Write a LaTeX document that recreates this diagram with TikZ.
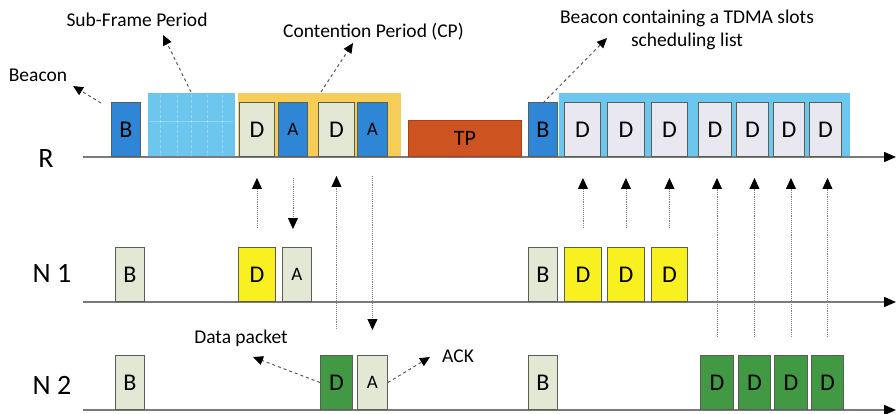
\documentclass[tikz,border=0pt]{standalone}
\usepackage{fontspec}
\setmainfont{Carlito}
\usetikzlibrary{arrows.meta}
\definecolor{bblue}{HTML}{2F86D6}
\definecolor{lblue}{HTML}{6CC6EE}
\definecolor{cpyel}{HTML}{F6CD58}
\definecolor{lgreen}{HTML}{E3E8D4}
\definecolor{lav}{HTML}{E9E7F0}
\definecolor{tpred}{HTML}{CD5420}
\definecolor{yel}{HTML}{F8F020}
\definecolor{dgreen}{HTML}{419A43}
\definecolor{axisgray}{HTML}{7A7A7A}
\definecolor{bordergray}{HTML}{5A5F55}
\tikzset{
  box/.style={draw=bordergray, line width=0.9pt, inner sep=0pt, anchor=south west, font=\fontsize{24}{24}\selectfont},
  abox/.style={box, font=\fontsize{19}{19}\selectfont},
  axisline/.style={draw=axisgray, line width=1.4pt, arrows={-{Triangle[width=10pt,length=12pt,color=black]}}},
  varrow/.style={draw=gray, line width=0.9pt, densely dotted, arrows={-{Triangle[width=10pt,length=11pt,color=black]}}},
  darrow/.style={draw=gray!70!black, line width=1pt, dashed, arrows={-{Triangle[width=9pt,length=10pt,color=black]}}},
  lbl/.style={font=\fontsize{19.5}{23}\selectfont, inner sep=0pt, align=center},
  axlbl/.style={font=\fontsize{28}{28}\selectfont, inner sep=0pt}
}
\begin{document}
\begin{tikzpicture}[x=1pt,y=-1pt]
\useasboundingbox (0,0) rectangle (896,414);
% background regions
\fill[lblue] (148,93) rectangle (235,157);
\foreach \xx in {160,177,191,207,222} \draw[white, opacity=0.3, densely dashed, line width=0.4pt] (\xx,95) -- (\xx,157);
\draw[white, opacity=0.3, line width=0.4pt] (150,121) -- (233,121);
\fill[cpyel] (238,93) rectangle (401,157);
\fill[lblue] (559,93) rectangle (850,157);
% axes
\coordinate (r0) at (83,157); \coordinate (r1) at (896,157);
\coordinate (a0) at (83,302); \coordinate (a1) at (896,302);
\coordinate (b0) at (83,410); \coordinate (b1) at (896,410);
\draw[axisline] (r0) -- (r1);
\draw[axisline] (a0) -- (a1);
\draw[axisline] (b0) -- (b1);
\node[axlbl] (lr) at (46,159) {R};
\node[axlbl] (ln1) at (52,273) {N 1};
\node[axlbl] (ln2) at (52,385) {N 2};
% R row
\node[box, fill=bblue, minimum width=29pt, minimum height=54pt] (rb) at (111,157) {B};
\node[box, fill=lgreen, minimum width=35pt, minimum height=54pt] (rd1) at (239,157) {D};
\node[abox, fill=bblue, minimum width=29pt, minimum height=54pt] (ra1) at (278,157) {A};
\node[box, fill=lgreen, minimum width=36pt, minimum height=54pt] (rd2) at (318,157) {D};
\node[abox, fill=bblue, minimum width=30pt, minimum height=54pt] (ra2) at (357,157) {A};
\node[box, fill=tpred, draw=tpred!80!black, minimum width=113pt, minimum height=36pt, font=\fontsize{22}{22}\selectfont] (tp) at (408,157) {TP};
\node[box, fill=bblue, minimum width=29pt, minimum height=54pt] (rb2) at (528,157) {B};
\foreach \n/\xa/\w in {1/564/36, 2/607/37, 3/651/36, 4/698/33, 5/736/32, 6/773/31, 7/809/32}
  \node[box, fill=lav, minimum width=\w pt, minimum height=54pt] (rdd\n) at (\xa,157) {D};
% N1 row
\node[box, fill=lgreen, minimum width=29pt, minimum height=54pt] (n1b) at (115,302) {B};
\node[box, fill=yel, minimum width=37pt, minimum height=54pt] (n1d) at (238,302) {D};
\node[abox, fill=lgreen, minimum width=29pt, minimum height=54pt] (n1a) at (282,302) {A};
\node[box, fill=lgreen, minimum width=29pt, minimum height=54pt] (n1b2) at (528,302) {B};
\node[box, fill=yel, minimum width=37pt, minimum height=54pt] (n1d1) at (564,302) {D};
\node[box, fill=yel, minimum width=37pt, minimum height=54pt] (n1d2) at (607,302) {D};
\node[box, fill=yel, minimum width=36pt, minimum height=54pt] (n1d3) at (651,302) {D};
% N2 row
\node[box, fill=lgreen, minimum width=29pt, minimum height=54pt] (n2b) at (115,410) {B};
\node[box, fill=dgreen, minimum width=32pt, minimum height=54pt] (n2d) at (320,410) {D};
\node[abox, fill=lgreen, minimum width=30pt, minimum height=54pt] (n2a) at (357,410) {A};
\node[box, fill=lgreen, minimum width=29pt, minimum height=54pt] (n2b2) at (528,410) {B};
\foreach \n/\xa/\w in {1/700/33, 2/738/32, 3/774/33, 4/811/32}
  \node[box, fill=dgreen, minimum width=\w pt, minimum height=54pt] (n2dd\n) at (\xa,410) {D};
% vertical transmission arrows
\draw[varrow] (n1d.north |- 0,228) -- (n1d.north |- 0,178);
\draw[varrow] (ra1.south |- 0,178) -- (ra1.south |- 0,229);
\draw[varrow] (n2d.north |- 0,329) -- (n2d.north |- 0,176);
\draw[varrow] (ra2.south |- 0,176) -- (ra2.south |- 0,330);
\foreach \n in {1,2,3}
  \draw[varrow] (n1d\n.north |- 0,228) -- (n1d\n.north |- 0,178);
\foreach \n in {1,2,3,4}
  \draw[varrow] (n2dd\n.north |- 0,337) -- (n2dd\n.north |- 0,178);
% labels
\node[lbl] (tbeacon) at (38,75) {Beacon};
\node[lbl] (tsub) at (137,20) {Sub-Frame Period};
\node[lbl, anchor=west] (tcp) at (283,32) {Contention Period (CP)};
\node[lbl] (tbtdma) at (687,30) {Beacon containing a TDMA slots\\scheduling list};
\node[lbl] (tdata) at (241,338) {Data packet};
\node[lbl, anchor=west] (tack) at (442,356) {ACK};
\coordinate (pbeacon) at (101,103);
\coordinate (psub) at (191,92);
\coordinate (pcp) at (321,92);
\coordinate (pb2) at (543,103);
\draw[darrow] (pbeacon) -- (73,86);
\draw[darrow] (psub) -- (163,35);
\draw[darrow] (pcp) -- (353,43);
\draw[darrow] (pb2) -- (607,38);
\draw[darrow] (n2d.west) -- (253,357);
\draw[darrow] (n2a.east) -- (430,357);
\end{tikzpicture}
\end{document}
